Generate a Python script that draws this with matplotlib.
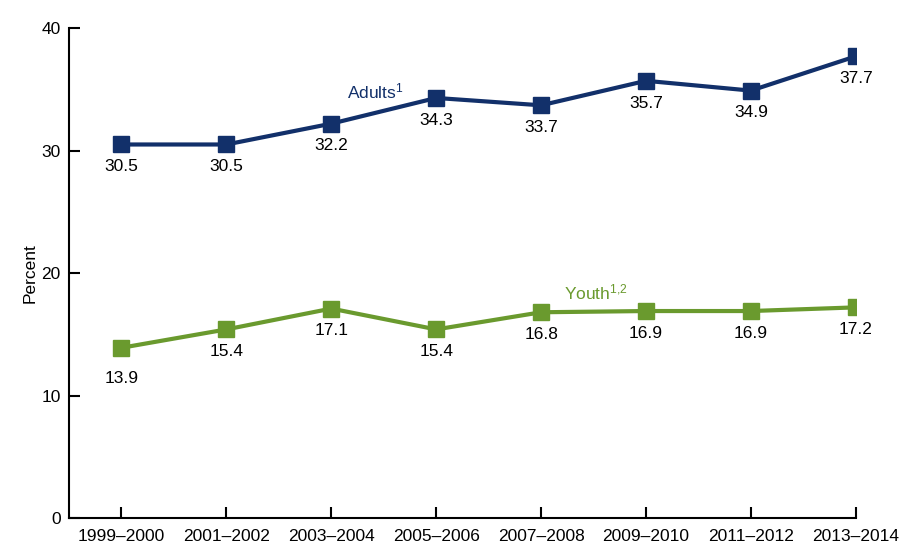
import matplotlib
matplotlib.use("Agg")
import matplotlib.pyplot as plt

periods = ["1999\u20132000", "2001\u20132002", "2003\u20132004", "2005\u20132006",
           "2007\u20132008", "2009\u20132010", "2011\u20132012", "2013\u20132014"]
adults = [30.5, 30.5, 32.2, 34.3, 33.7, 35.7, 34.9, 37.7]
youth = [13.9, 15.4, 17.1, 15.4, 16.8, 16.9, 16.9, 17.2]

plt.rcParams["font.family"] = ["Liberation Sans", "DejaVu Sans"]
plt.rcParams["mathtext.fontset"] = "custom"
plt.rcParams["mathtext.rm"] = "Liberation Sans"
plt.rcParams["mathtext.it"] = "Liberation Sans"

navy = "#12306a"
green = "#6a9a2e"

fig = plt.figure(figsize=(9.24, 5.52), dpi=100)
ax = fig.add_axes([0.0747, 0.0616, 0.8515, 0.8874])

x = list(range(len(periods)))
ax.plot(x, adults, color=navy, lw=3, marker="s", ms=11, zorder=3)
ax.plot(x, youth, color=green, lw=3, marker="s", ms=11, zorder=3)

for i, v in enumerate(adults):
    ax.annotate(f"{v:.1f}", (i, v), xytext=(0, -16), textcoords="offset points",
                ha="center", va="center", fontsize=12.5, color="black")
for i, v in enumerate(youth):
    dy = -22 if i == 0 else -16
    ax.annotate(f"{v:.1f}", (i, v), xytext=(0, dy), textcoords="offset points",
                ha="center", va="center", fontsize=12.5, color="black")

ax.text(2.42, 34.8, r"Adults$^{1}$", color=navy, fontsize=12.5, ha="center", va="center")
ax.text(4.52, 18.4, r"Youth$^{1{,}2}$", color=green, fontsize=12.5, ha="center", va="center")

ax.set_xlim(-0.5, 7)
ax.set_ylim(0, 40)
ax.set_xticks(x)
ax.set_xticklabels(periods)
ax.set_yticks([0, 10, 20, 30, 40])
ax.tick_params(axis="both", direction="in", length=8, width=1.5, labelsize=12.5, pad=6)
ax.tick_params(axis="x", pad=8)
ax.set_ylabel("Percent", fontsize=12.5, labelpad=3)

ax.spines["top"].set_visible(False)
ax.spines["right"].set_visible(False)
ax.spines["left"].set_linewidth(1.5)
ax.spines["bottom"].set_linewidth(1.5)

plt.savefig("out.png", dpi=100)
